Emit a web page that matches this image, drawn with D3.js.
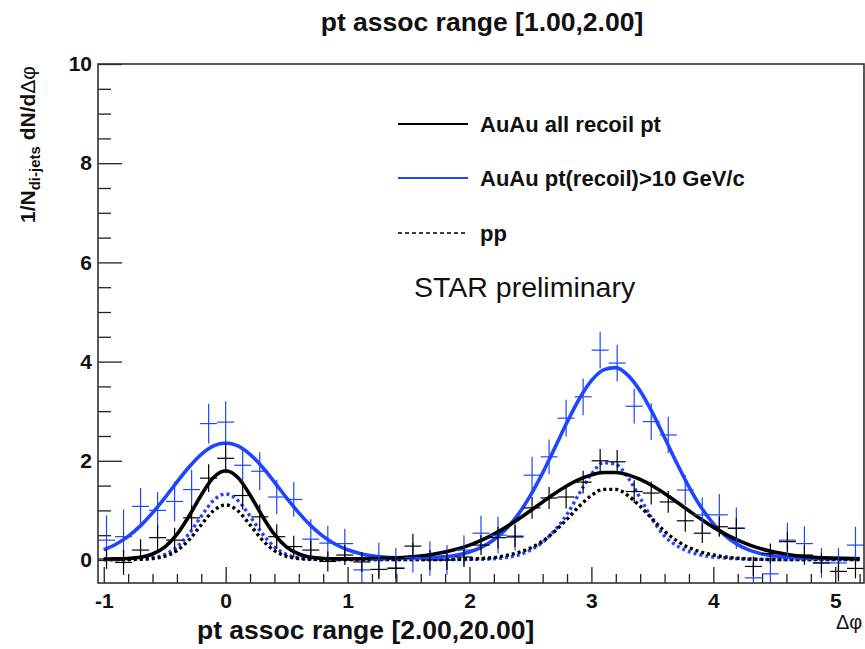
<!DOCTYPE html>
<html>
<head>
<meta charset="utf-8">
<script src="https://cdn.jsdelivr.net/npm/d3@7"></script>
<style>
body { margin: 0; background: #fff; }
text { font-family: "Liberation Sans", Arial, Helvetica, sans-serif; }
</style>
</head>
<body>
<svg id="chart" width="865" height="649"></svg>
<script>
// delta-phi correlations, di-jet triggered, STAR preliminary

// fit curves, sampled every 0.1 in delta phi
var dphiGrid = [-1.0,-0.9,-0.8,-0.7,-0.6,-0.5,-0.4,-0.3,-0.2,-0.1,0.0,0.1,0.2,0.3,0.4,0.5,0.6,0.7,0.8,0.9,
	1.0,1.1,1.2,1.3,1.4,1.5,1.6,1.7,1.8,1.9,2.0,2.1,2.2,2.3,2.4,2.5,2.6,2.7,2.8,2.9,
	3.0,3.1,3.2,3.3,3.4,3.5,3.6,3.7,3.8,3.9,4.0,4.1,4.2,4.3,4.4,4.5,4.6,4.7,4.8,4.9,
	5.0,5.1,5.2];

var auauAllFit = [0.02,0.022,0.031,0.055,0.12,0.261,0.515,0.886,1.312,1.663,1.80,1.663,1.312,0.886,0.515,0.261,0.12,0.055,0.031,0.022,
	0.023,0.025,0.029,0.035,0.045,0.06,0.082,0.115,0.159,0.22,0.299,0.399,0.52,0.662,0.821,0.993,1.17,1.341,1.496,1.624,
	1.716,1.764,1.764,1.716,1.624,1.496,1.341,1.17,0.993,0.821,0.662,0.52,0.399,0.299,0.22,0.159,0.115,0.082,0.06,0.045,
	0.035,0.029,0.025];

var auauHighFit = [0.206,0.317,0.476,0.687,0.949,1.251,1.571,1.876,2.131,2.301,2.36,2.301,2.131,1.876,1.571,1.251,0.949,0.687,0.476,0.317,
	0.206,0.132,0.086,0.06,0.046,0.041,0.042,0.048,0.067,0.102,0.161,0.258,0.407,0.624,0.92,1.301,1.756,2.261,2.776,3.246,
	3.615,3.834,3.879,3.723,3.409,2.972,2.469,1.954,1.475,1.063,0.733,0.485,0.31,0.194,0.122,0.079,0.055,0.042,0.036,0.033,
	0.032,0.031,0.03];

var ppFit = [0.01,0.01,0.01,0.014,0.029,0.075,0.189,0.406,0.709,0.992,1.11,0.992,0.709,0.406,0.189,0.075,0.029,0.014,0.01,0.01,
	0.01,0.01,0.01,0.01,0.01,0.01,0.01,0.01,0.012,0.015,0.02,0.03,0.05,0.09,0.15,0.24,0.38,0.58,0.825,1.083,
	1.30,1.424,1.424,1.30,1.083,0.825,0.58,0.39,0.25,0.16,0.1,0.06,0.035,0.02,0.013,0.01,0.01,0.01,0.01,0.01,
	0.01,0.01,0.01];

var ppHighFit = [0.01,0.01,0.01,0.018,0.042,0.11,0.263,0.531,0.883,1.2,1.33,1.2,0.883,0.531,0.263,0.11,0.042,0.018,0.01,0.01,
	0.01,0.01,0.01,0.01,0.01,0.01,0.01,0.01,0.01,0.01,0.012,0.015,0.025,0.05,0.1,0.2,0.36,0.6,0.92,1.34,
	1.73,1.96,1.93,1.66,1.25,0.82,0.48,0.29,0.17,0.1,0.06,0.04,0.025,0.015,0.012,0.01,0.01,0.01,0.01,0.01,
	0.01,0.01,0.01];

// histogram points, 45 bins from -pi/3 to 5pi/3
var auauAllPts = [0.02,-0.05,0.2,0.45,0.4,0.85,1.65,2.05,1.3,0.87,0.47,0.27,0.2,-0.03,0.1,-0.04,-0.19,-0.17,0.28,0.0,
	0.0,0.06,0.3,0.45,0.48,1.05,1.25,1.27,1.57,2.0,1.98,1.38,1.35,1.17,0.79,0.54,0.67,0.64,-0.13,0.13,
	0.37,0.1,-0.06,-0.23,-0.17];
var auauAllErr = [0.2,0.25,0.22,0.25,0.25,0.25,0.28,0.3,0.28,0.25,0.25,0.22,0.2,0.2,0.2,0.2,0.2,0.2,0.25,0.2,
	0.2,0.2,0.2,0.22,0.22,0.22,0.22,0.23,0.23,0.24,0.24,0.23,0.23,0.22,0.22,0.2,0.2,0.2,0.2,0.2,
	0.2,0.2,0.2,0.2,0.2];

var auauHighPts = [0.40,0.47,1.08,1.0,1.18,1.42,2.75,2.78,1.91,1.79,1.27,1.22,0.42,0.34,0.33,-0.2,0.0,-0.16,0.05,0.03,
	0.0,0.2,0.54,0.5,0.46,1.71,2.08,2.86,3.29,4.23,3.97,3.1,2.79,2.52,1.41,0.91,0.91,0.64,-0.36,-0.28,
	0.4,0.33,-0.06,-0.06,0.3];
var auauHighErr = [0.5,0.55,0.37,0.37,0.4,0.4,0.4,0.42,0.35,0.38,0.35,0.35,0.4,0.35,0.3,0.3,0.35,0.4,0.3,0.35,
	0.3,0.3,0.35,0.37,0.27,0.37,0.35,0.37,0.37,0.37,0.37,0.35,0.37,0.37,0.3,0.35,0.42,0.42,0.3,0.3,
	0.35,0.35,0.3,0.3,0.37];

var xTicks = [-1,0,1,2,3,4,5];
var yTicks = [0,2,4,6,8,10];
var legendLabels = ["AuAu all recoil pt", "AuAu pt(recoil)>10 GeV/c", "pp"];

var blue = "#1f45ff";
var svg = d3.select("#chart");
var frame = {left: 98, right: 864, top: 64, bottom: 583};

var x = d3.scaleLinear().domain([-Math.PI/3, 5*Math.PI/3]).range([frame.left, frame.right]);
var y = d3.scaleLinear().domain([-0.464, 10]).range([frame.bottom, frame.top]);

svg.append("rect").attr("width", 865).attr("height", 649).attr("fill", "#fff");

svg.append("clipPath").attr("id", "plotclip").append("rect")
	.attr("x", frame.left).attr("y", frame.top)
	.attr("width", frame.right - frame.left).attr("height", frame.bottom - frame.top);

var plot = svg.append("g").attr("clip-path", "url(#plotclip)");

var fitLine = function(vals){
	return d3.line()
		.x(function(d, i){ return x(dphiGrid[i]); })
		.y(function(d){ return y(d); })
		.curve(d3.curveMonotoneX)(vals);
};

//pp curves (dotted)
plot.append("path").attr("d", fitLine(ppHighFit)).attr("fill", "none")
	.attr("stroke", blue).attr("stroke-width", 3.4).attr("stroke-dasharray", "3,3");
plot.append("path").attr("d", fitLine(ppFit)).attr("fill", "none")
	.attr("stroke", "#000").attr("stroke-width", 3.4).attr("stroke-dasharray", "3,3");

//AuAu curves
plot.append("path").attr("d", fitLine(auauHighFit)).attr("fill", "none")
	.attr("stroke", blue).attr("stroke-width", 3.6);
plot.append("path").attr("d", fitLine(auauAllFit)).attr("fill", "none")
	.attr("stroke", "#000").attr("stroke-width", 3.6);

// error crosses
var binW = 2*Math.PI/45;
var binCenter = function(i){ return -Math.PI/3 + (i + 0.5)*binW; };

var drawCrosses = function(vals, errs, color){
	var g = plot.append("g").attr("stroke", color).attr("stroke-width", 1.2);
	g.selectAll("line.h").data(vals).enter().append("line").attr("class", "h")
		.attr("x1", function(d, i){ return x(binCenter(i) - binW/2); })
		.attr("x2", function(d, i){ return x(binCenter(i) + binW/2); })
		.attr("y1", function(d){ return y(d); })
		.attr("y2", function(d){ return y(d); });
	g.selectAll("line.v").data(vals).enter().append("line").attr("class", "v")
		.attr("x1", function(d, i){ return x(binCenter(i)); })
		.attr("x2", function(d, i){ return x(binCenter(i)); })
		.attr("y1", function(d, i){ return y(d - errs[i]); })
		.attr("y2", function(d, i){ return y(d + errs[i]); });
};
drawCrosses(auauHighPts, auauHighErr, blue);
drawCrosses(auauAllPts, auauAllErr, "#000");

// axes, ticks point inwards
var yMinor = d3.range(0.5, 10, 0.5).filter(function(v){ return v % 2 !== 0; });
var xMinor = d3.range(-1, 5.21, 0.2).filter(function(v){ return Math.abs(v - Math.round(v)) > 0.01; });

svg.append("g").attr("transform", "translate(" + frame.left + ",0)")
	.call(d3.axisLeft(y).tickValues(yTicks).tickSize(-24).tickPadding(6).tickFormat(function(d){ return String(d); }));
svg.append("g").attr("transform", "translate(" + frame.left + ",0)")
	.call(d3.axisLeft(y).tickValues(yMinor).tickSize(-13).tickFormat(""));

svg.append("g").attr("transform", "translate(0," + frame.bottom + ")")
	.call(d3.axisBottom(x).tickValues(xTicks).tickSize(-16).tickPadding(10).tickFormat(function(d){ return String(d); }));
svg.append("g").attr("transform", "translate(0," + frame.bottom + ")")
	.call(d3.axisBottom(x).tickValues(xMinor).tickSize(-9).tickFormat(""));

svg.selectAll(".domain").remove();
svg.selectAll(".tick line").attr("stroke", "#222").attr("stroke-width", 1.3);
svg.selectAll(".tick text").attr("fill", "#111").attr("font-size", 21).attr("font-weight", "bold")
	.attr("font-family", "'Liberation Sans', Arial, sans-serif");

// frame
svg.append("rect").attr("x", frame.left).attr("y", frame.top)
	.attr("width", frame.right - frame.left).attr("height", frame.bottom - frame.top)
	.attr("fill", "none").attr("stroke", "#333").attr("stroke-width", 1.6);

// titles
svg.append("text").attr("x", 482).attr("y", 31).attr("text-anchor", "middle")
	.attr("font-size", 26.5).attr("font-weight", "bold").attr("fill", "#111")
	.text("pt assoc range [1.00,2.00]");

svg.append("text").attr("x", 197).attr("y", 639)
	.attr("font-size", 26.5).attr("font-weight", "bold").attr("fill", "#111")
	.text("pt assoc range [2.00,20.00]");

svg.append("text").attr("x", 836).attr("y", 629)
	.attr("font-size", 20).attr("fill", "#111").text("\u0394\u03c6");

var ylab = svg.append("text").attr("transform", "translate(35,66) rotate(-90)")
	.attr("text-anchor", "end").attr("font-size", 21).attr("font-weight", "bold").attr("fill", "#111");
ylab.append("tspan").text("1/N");
ylab.append("tspan").attr("font-size", 15).attr("dy", 5).text("di-jets");
ylab.append("tspan").attr("dy", -5).text(" dN/d");
ylab.append("tspan").attr("font-weight", "normal").text("\u0394\u03c6");

svg.append("text").attr("x", 414).attr("y", 297)
	.attr("font-size", 28.5).attr("fill", "#111").text("STAR preliminary");

// legend
var legendY = [124, 178, 233];
var legendStyles = [
	{color: "#000", dash: null, width: 2},
	{color: blue, dash: null, width: 2},
	{color: "#000", dash: "4,3", width: 1.3}
];
var legend = svg.append("g");
legendLabels.forEach(function(lab, i){
	legend.append("line").attr("x1", 398).attr("x2", 468)
		.attr("y1", legendY[i]).attr("y2", legendY[i])
		.attr("stroke", legendStyles[i].color).attr("stroke-width", legendStyles[i].width)
		.attr("stroke-dasharray", legendStyles[i].dash);
	legend.append("text").attr("x", 480).attr("y", legendY[i]).attr("dy", "0.35em")
		.attr("font-size", 22).attr("font-weight", "bold").attr("fill", "#111").text(lab);
});
</script>
</body>
</html>
